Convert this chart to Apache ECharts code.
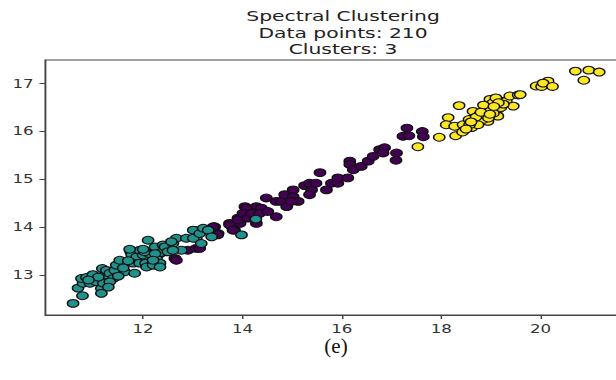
<!DOCTYPE html>
<html>
<head>
<meta charset="utf-8">
<script src="https://cdn.jsdelivr.net/npm/echarts@6/dist/echarts.min.js"></script>
<style>
  html, body { margin: 0; padding: 0; background: #fff; overflow: hidden; }
  /* the reference figure is stretched sideways, so draw narrow and widen */
  #chart { width: 425px; height: 380px; transform: scaleX(1.4494); transform-origin: 0 0; }
  #caption {
    position: absolute; left: 286px; top: 334px; width: 100px; text-align: center;
    font-family: 'Liberation Serif'; font-size: 21px; color: #111;
  }
</style>
</head>
<body>
<div id="chart"></div>
<div id="caption"></div>
<script>
// area vs perimeter, one array per cluster
const tealPoints = [
  [10.59,12.41],[10.78,12.57],[10.69,12.73],[10.79,12.83],[10.76,12.93],[10.86,12.95],[10.93,12.83],[10.99,13.01],
  [11.06,12.86],[11.16,12.72],[11.16,12.62],[11.2,12.83],[11.23,13.0],[11.18,13.14],[11.26,13.1],[11.33,13.04],
  [11.4,12.93],[11.33,12.86],[11.43,13.1],[11.46,13.21],[11.53,13.31],[11.63,13.07],[11.83,13.04],[11.75,13.49],
  [11.77,13.42],[11.87,13.38],[11.93,13.52],[12.0,13.42],[11.8,13.25],[11.93,13.25],[12.05,13.25],[12.1,13.73],
  [12.12,13.45],[12.24,13.59],[12.34,13.45],[12.27,13.35],[12.17,13.21],[12.34,13.25],[12.4,13.63],[12.47,13.49],
  [12.03,13.49],[11.73,13.54],[12.0,13.54],[12.07,13.17],[12.2,13.21],[12.35,13.47],[12.44,13.59],[12.5,13.49],
  [12.6,13.66],[12.67,13.77],[12.77,13.52],[12.87,13.77],[13.04,13.93],[13.07,13.77],[12.24,13.45],[12.2,13.31],
  [12.34,13.17],[12.57,13.7],[12.6,13.52],[13.01,13.77],[13.01,13.94],[13.14,13.87],[13.21,13.98],[13.31,13.94],
  [13.38,13.8],[13.17,13.66],[13.98,13.84],[14.27,14.17],[11.5,12.98],[11.1,12.96],[11.3,12.75],[10.9,12.9],
  [11.6,13.15],[11.7,13.3]
];
const purplePoints = [
  [12.17,13.49],[12.64,13.35],[12.9,13.52],[13.07,13.56],[12.67,13.31],[13.14,13.56],[13.44,14.01],[13.51,13.87],
  [13.74,14.08],[13.8,14.0],[13.84,13.94],[13.91,14.19],[14.05,14.43],[14.08,14.26],[14.15,14.36],[14.21,14.26],
  [14.28,14.43],[14.31,14.33],[13.95,14.08],[13.48,13.87],[13.41,14.01],[13.74,14.05],[13.81,13.94],[13.91,14.15],
  [14.08,14.4],[14.01,14.29],[14.11,14.19],[14.18,14.29],[14.28,14.08],[14.38,14.4],[14.35,14.29],[14.51,14.33],
  [14.68,14.22],[14.48,14.61],[14.68,14.54],[14.78,14.54],[14.89,14.43],[14.85,14.68],[15.02,14.78],[15.02,14.64],
  [15.12,14.54],[14.98,14.54],[15.25,14.87],[15.35,14.92],[15.39,14.78],[15.35,14.68],[15.48,14.92],[15.56,15.14],
  [15.69,14.78],[15.79,14.92],[15.92,14.92],[15.92,15.03],[16.12,15.03],[16.16,15.38],[16.16,15.31],[16.23,15.2],
  [16.39,15.27],[16.53,15.38],[16.63,15.48],[16.76,15.62],[16.86,15.66],[16.83,15.55],[17.1,15.55],[17.09,15.4],
  [17.31,16.07],[17.23,15.9],[17.35,15.91],[17.62,16.0],[17.64,15.89],[13.5,13.84]
];
const yellowPoints = [
  [17.53,15.68],[17.96,15.88],[18.14,16.29],[18.1,16.14],[18.29,15.91],[18.43,15.99],[18.61,16.08],[18.27,16.11],
  [18.44,16.14],[18.56,16.25],[18.36,16.54],[18.64,16.42],[18.74,16.21],[18.77,16.35],[18.88,16.46],[18.94,16.21],
  [19.01,16.32],[18.98,16.67],[18.94,16.5],[19.11,16.63],[19.14,16.46],[19.14,16.32],[19.04,16.6],[19.21,16.63],
  [19.31,16.63],[19.38,16.74],[19.45,16.53],[19.55,16.76],[19.59,16.77],[18.84,16.25],[18.74,16.14],[18.57,16.14],
  [19.91,16.95],[20.02,16.94],[20.15,17.05],[20.05,17.01],[20.24,16.94],[20.7,17.26],[20.97,17.28],[21.18,17.24],
  [20.87,17.07],[18.9,16.4],[19.0,16.45],[19.05,16.38],[18.85,16.55],[19.2,16.5],[19.1,16.7],[18.95,16.28],
  [18.7,16.3],[19.25,16.57],[18.8,16.4],[18.6,16.2],[18.5,16.05],[19.15,16.6],[18.98,16.36],[19.06,16.52]
];
const xTicks = [12, 14, 16, 18, 20];
const yTicks = [13, 14, 15, 16, 17];
const titleText = 'Spectral Clustering\nData points: 210\nClusters: 3';
const captionText = '(e)';

document.getElementById('caption').textContent = captionText;

const chart = echarts.init(document.getElementById('chart'), null, { renderer: 'svg' });

const pointStyle = (color) => ({
  color: color,
  borderColor: '#111',
  borderWidth: 1,
  opacity: 1
});

chart.setOption({
  animation: false,
  title: {
    text: titleText,
    left: 231.7,
    top: 3,
    textAlign: 'center',
    textStyle: { fontFamily: 'DejaVu Sans', fontSize: 14, fontWeight: 'normal', color: '#222', lineHeight: 16.5 }
  },
  grid: {
    left: 31.2,
    top: 60,
    width: 400.4,
    height: 255,
    outerBoundsMode: 'none',
    show: true,
    borderColor: '#444',
    borderWidth: 1
  },
  xAxis: {
    type: 'value',
    min: 10.03,
    max: 21.71,
    splitLine: { show: false },
    axisLine: { show: true, onZero: false, lineStyle: { color: '#444' } },
    axisTick: { show: true, length: 4, lineStyle: { color: '#444' }, customValues: xTicks },
    axisLabel: { color: '#333', fontFamily: 'DejaVu Sans', fontSize: 11.5, margin: 8, customValues: xTicks }
  },
  yAxis: {
    type: 'value',
    min: 12.168,
    max: 17.492,
    splitLine: { show: false },
    axisLine: { show: true, onZero: false, lineStyle: { color: '#444' } },
    axisTick: { show: true, length: 4, lineStyle: { color: '#444' }, customValues: yTicks },
    axisLabel: { color: '#333', fontFamily: 'DejaVu Sans', fontSize: 11.5, margin: 8, customValues: yTicks }
  },
  series: [
    { type: 'scatter', symbolSize: 7.8, data: purplePoints, itemStyle: pointStyle('#440154') },
    { type: 'scatter', symbolSize: 7.8, data: tealPoints, itemStyle: pointStyle('#21918c') },
    { type: 'scatter', symbolSize: 7.8, data: yellowPoints, itemStyle: pointStyle('#fde725') }
  ]
});
</script>
</body>
</html>
